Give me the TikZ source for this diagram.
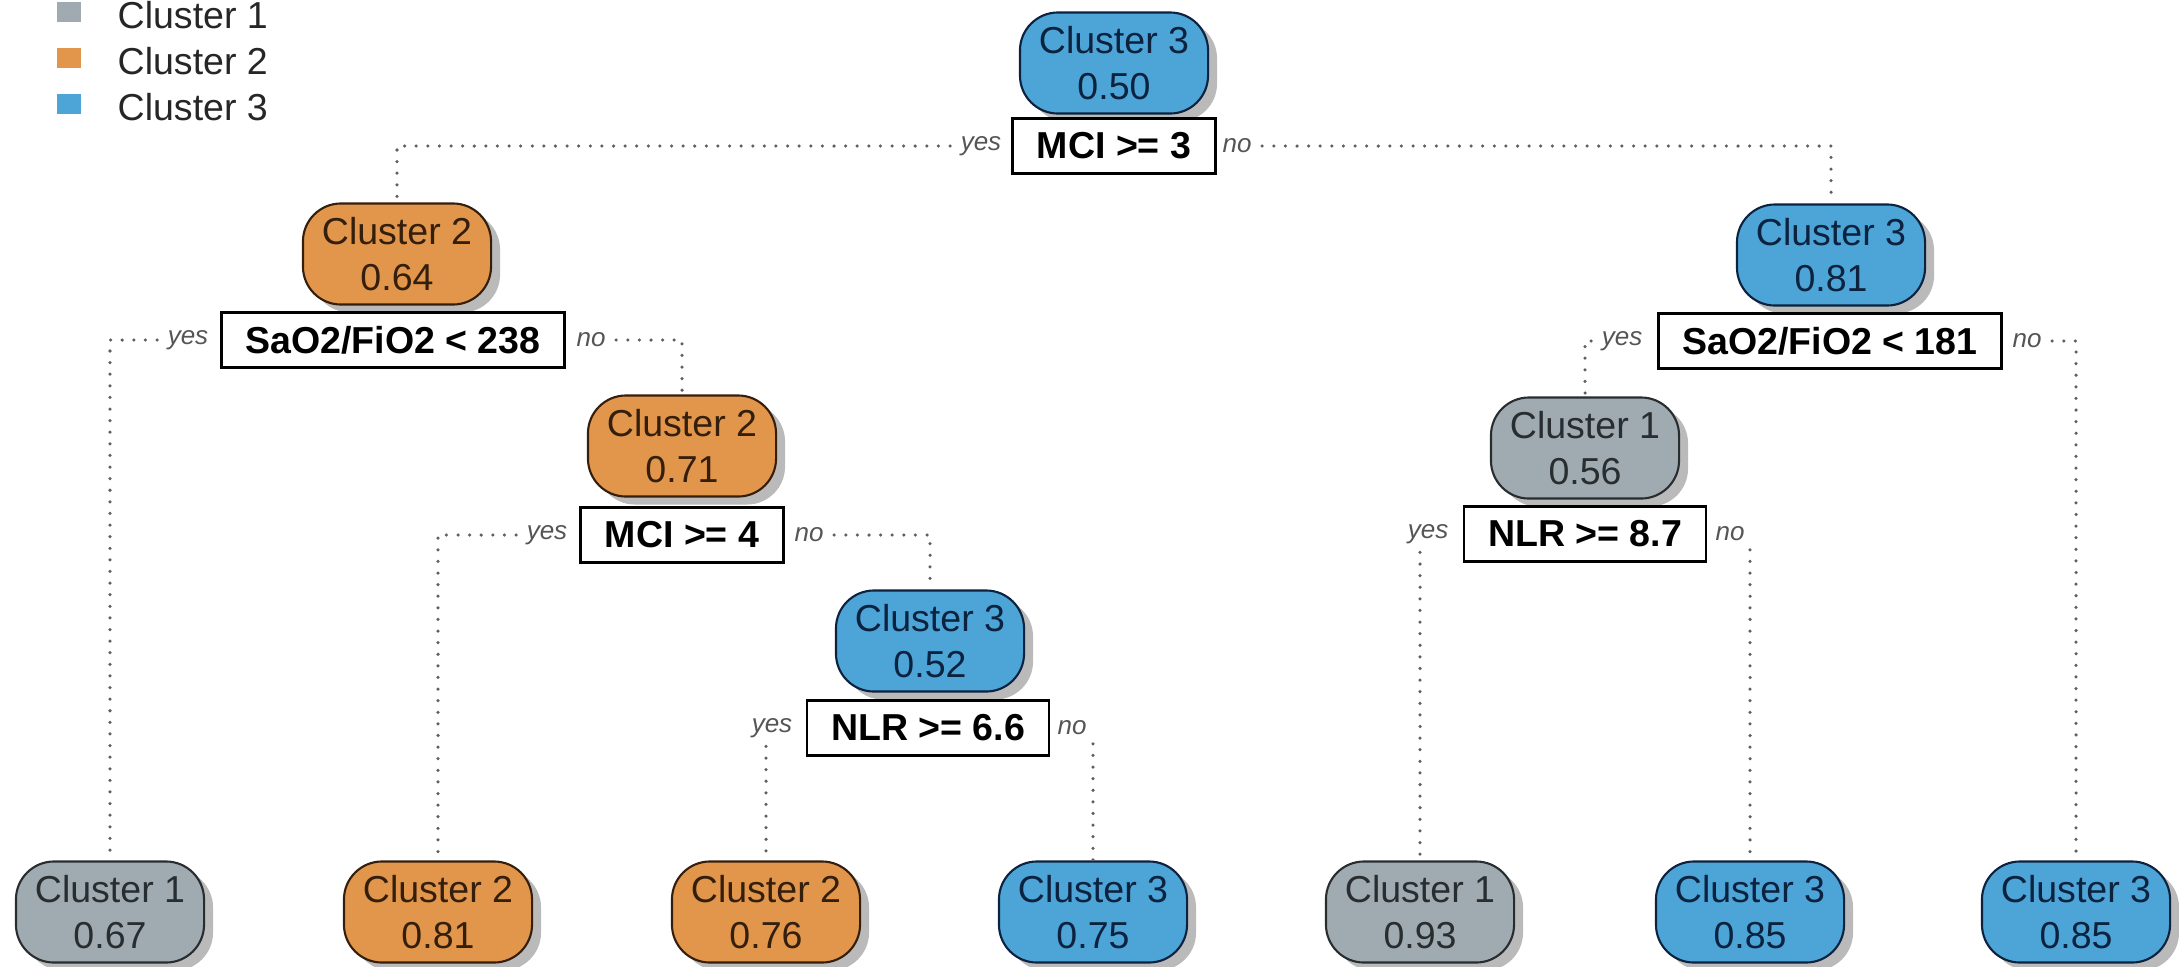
\documentclass[tikz,border=0pt]{standalone}
\usepackage{fontspec}
\setmainfont{Liberation Sans}
\usetikzlibrary{shadows}
\definecolor{gFill}{RGB}{160,171,177}
\definecolor{gLine}{RGB}{40,45,48}
\definecolor{oFill}{RGB}{225,150,76}
\definecolor{oLine}{RGB}{52,30,12}
\definecolor{bFill}{RGB}{76,164,215}
\definecolor{bLine}{RGB}{12,34,62}
\definecolor{lblGray}{RGB}{85,85,85}
\definecolor{edgeGray}{RGB}{95,95,95}
\newcommand{\ndfont}{\fontsize{10.67pt}{13.1pt}\selectfont}
\newcommand{\spfont}{\fontsize{10.67pt}{13.1pt}\selectfont\bfseries}
\newcommand{\ynfnt}{\fontsize{7.4pt}{8.5pt}\selectfont\itshape}
\tikzset{
  leaf/.style={draw, line width=0.6pt, rounded corners=0.38cm,
    minimum width=1.88cm, minimum height=1.01cm, inner sep=0pt,
    align=center, font=\ndfont,
    drop shadow={shadow xshift=0.09cm, shadow yshift=-0.08cm, fill=black!45, opacity=0.6}},
  cA/.style={leaf, fill=gFill, draw=gLine, text=gLine},
  cB/.style={leaf, fill=oFill, draw=oLine, text=oLine},
  cC/.style={leaf, fill=bFill, draw=bLine, text=bLine},
  split/.style={draw=black, line width=0.8pt, fill=white, inner xsep=0.24cm,
    inner ysep=0pt, minimum height=0.55cm, font=\spfont},
  yn/.style={font=\ynfnt, text=lblGray, inner xsep=0.1cm, inner ysep=0.08cm},
  edge/.style={draw=edgeGray, line width=1pt, dash pattern=on 0pt off 3.3pt, line cap=round},
  lgsq/.style={minimum width=0.24cm, minimum height=0.2cm, inner sep=0pt},
  lgtxt/.style={font=\ndfont, text=black!85, inner sep=0pt, anchor=west}
}
\begin{document}
\begin{tikzpicture}[x=0.01cm, y=-0.01cm]
\useasboundingbox (0,0) rectangle (2179,966);
% legend
\node[lgsq, fill=gFill] (k1) at (69,12) {};
\node[lgsq, fill=oFill] (k2) at (69,58) {};
\node[lgsq, fill=bFill] (k3) at (69,104) {};
\node[lgtxt] (t1) at (117,15) {Cluster 1};
\node[lgtxt] (t2) at (117,61) {Cluster 2};
\node[lgtxt] (t3) at (117,107) {Cluster 3};
% internal nodes
\node[cC] (n1) at (1114,63) {Cluster 3\\0.50};
\node[split] (s1) at (1114,146) {MCI >= 3};
\node[yn] (y1) at (981,146) {yes};
\node[yn] (o1) at (1237,146) {no};
\node[cB] (n2) at (397,254) {Cluster 2\\0.64};
\node[split] (s2) at (393,340) {SaO2/FiO2 < 238};
\node[yn] (y2) at (188,340) {yes};
\node[yn] (o2) at (591,340) {no};
\node[cC] (n3) at (1831,255) {Cluster 3\\0.81};
\node[split] (s3) at (1830,341) {SaO2/FiO2 < 181};
\node[yn] (y3) at (1622,341) {yes};
\node[yn] (o3) at (2027,341) {no};
\node[cB] (n4) at (682,446) {Cluster 2\\0.71};
\node[split] (s4) at (682,535) {MCI >= 4};
\node[yn] (y4) at (547,535) {yes};
\node[yn] (o4) at (809,535) {no};
\node[cA] (n5) at (1585,448) {Cluster 1\\0.56};
\node[split] (s5) at (1585,534) {NLR >= 8.7};
\node[yn] (y5) at (1428,534) {yes};
\node[yn] (o5) at (1730,534) {no};
\node[cC] (n6) at (930,641) {Cluster 3\\0.52};
\node[split] (s6) at (928,728) {NLR >= 6.6};
\node[yn] (y6) at (772,728) {yes};
\node[yn] (o6) at (1072,728) {no};
% leaves
\node[cA] (L1) at (110,912) {Cluster 1\\0.67};
\node[cB] (L2) at (438,912) {Cluster 2\\0.81};
\node[cB] (L3) at (766,912) {Cluster 2\\0.76};
\node[cC] (L4) at (1093,912) {Cluster 3\\0.75};
\node[cA] (L5) at (1420,912) {Cluster 1\\0.93};
\node[cC] (L6) at (1750,912) {Cluster 3\\0.85};
\node[cC] (L7) at (2076,912) {Cluster 3\\0.85};
% connectors
\draw[edge] (y1.west) -| (n2.north);
\draw[edge] (o1.east) -| (n3.north);
\draw[edge] (y2.west) -| (L1.north);
\draw[edge] (o2.east) -| (n4.north);
\draw[edge] (y3.west) -| (n5.north);
\draw[edge] (o3.east) -| (L7.north);
\draw[edge] (y4.west) -| (L2.north);
\draw[edge] (o4.east) -| (n6.north);
\draw[edge] (y5.south -| L5.north) -- (L5.north);
\draw[edge] (o5.south -| L6.north) -- (L6.north);
\draw[edge] (y6.south -| L3.north) -- (L3.north);
\draw[edge] (o6.south -| L4.north) -- (L4.north);
\end{tikzpicture}
\end{document}
